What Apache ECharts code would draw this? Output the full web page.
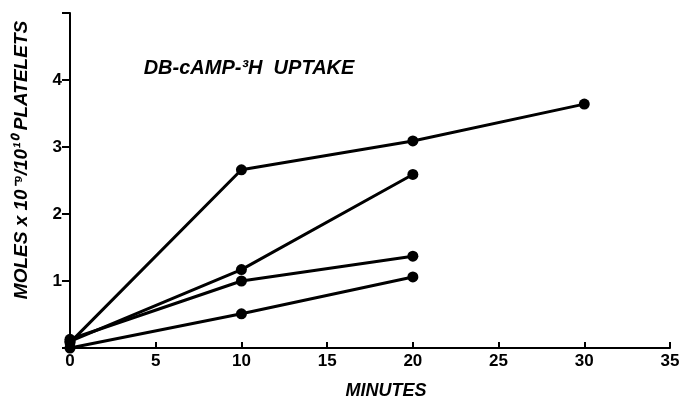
<!DOCTYPE html>
<html><head><meta charset="utf-8">
<script src="https://cdn.jsdelivr.net/npm/echarts@6/dist/echarts.min.js"></script>
<style>html,body{margin:0;padding:0;background:#fff}#c{width:683px;height:406px}</style>
</head><body><div id="c"></div>
<script>
const minutesA = [0, 10, 20, 30];
const valuesA = [0.08, 2.66, 3.09, 3.64];
const minutesB = [0, 10, 20];
const valuesB = [0.1, 1.17, 2.59];
const minutesC = [0, 10, 20];
const valuesC = [0.13, 1.0, 1.37];
const minutesD = [0, 10, 20];
const valuesD = [0.0, 0.51, 1.06];
const xTicks = [0, 5, 10, 15, 20, 25, 30, 35];
const yTicks = [1, 2, 3, 4];
const titleText = 'DB-cAMP-\u00B3H  UPTAKE';
const yTitle = 'MOLES x 10\u207B\u2079/10\u00B9\u2070 PLATELETS';
const xTitle = 'MINUTES';

const pair = (xs, ys) => xs.map((x, i) => [x, ys[i]]);
const FONT = '"Liberation Sans", Arial, sans-serif';
const mkSeries = (xs, ys) => ({
  type: 'line', data: pair(xs, ys), symbol: 'circle', symbolSize: 11,
  lineStyle: {color: '#000', width: 3}, itemStyle: {color: '#000'},
  animation: false, z: 3
});

const chart = echarts.init(document.getElementById('c'), null, {renderer: 'canvas'});
chart.setOption({
  backgroundColor: '#fff',
  animation: false,
  grid: {left: 70, right: 13, top: 13, bottom: 58},
  xAxis: {
    type: 'value', min: 0, max: 35, interval: 5,
    axisLine: {lineStyle: {color: '#000', width: 2}},
    axisTick: {inside: true, length: 6, lineStyle: {color: '#000', width: 2}},
    axisLabel: {color: '#000', fontFamily: FONT, fontWeight: 'bold', fontSize: 17, margin: 5,
      formatter: v => xTicks.includes(v) ? String(v) : ''},
    splitLine: {show: false}
  },
  yAxis: {
    type: 'value', min: 0, max: 5, interval: 1,
    axisLine: {lineStyle: {color: '#000', width: 2}},
    axisTick: {inside: false, length: 8, lineStyle: {color: '#000', width: 2},
      interval: (i, v) => yTicks.includes(Number(v))},
    axisLabel: {color: '#000', fontFamily: FONT, fontWeight: 'bold', fontSize: 17, margin: 8,
      formatter: v => yTicks.includes(v) ? String(v) : ''},
    splitLine: {show: false}
  },
  graphic: [
    {type: 'text', x: 249, y: 68,
      style: {text: titleText, font: 'italic bold 20px ' + FONT, fill: '#000', align: 'center', verticalAlign: 'middle'}},
    {type: 'text', x: 22, y: 160, rotation: Math.PI / 2,
      style: {text: yTitle, font: 'italic bold 19px ' + FONT, fill: '#000', align: 'center', verticalAlign: 'middle'}},
    {type: 'text', x: 386, y: 391,
      style: {text: xTitle, font: 'italic bold 18px ' + FONT, fill: '#000', align: 'center', verticalAlign: 'middle'}}
  ],
  series: [
    mkSeries(minutesA, valuesA),
    mkSeries(minutesB, valuesB),
    mkSeries(minutesC, valuesC),
    mkSeries(minutesD, valuesD)
  ]
});
</script></body></html>
